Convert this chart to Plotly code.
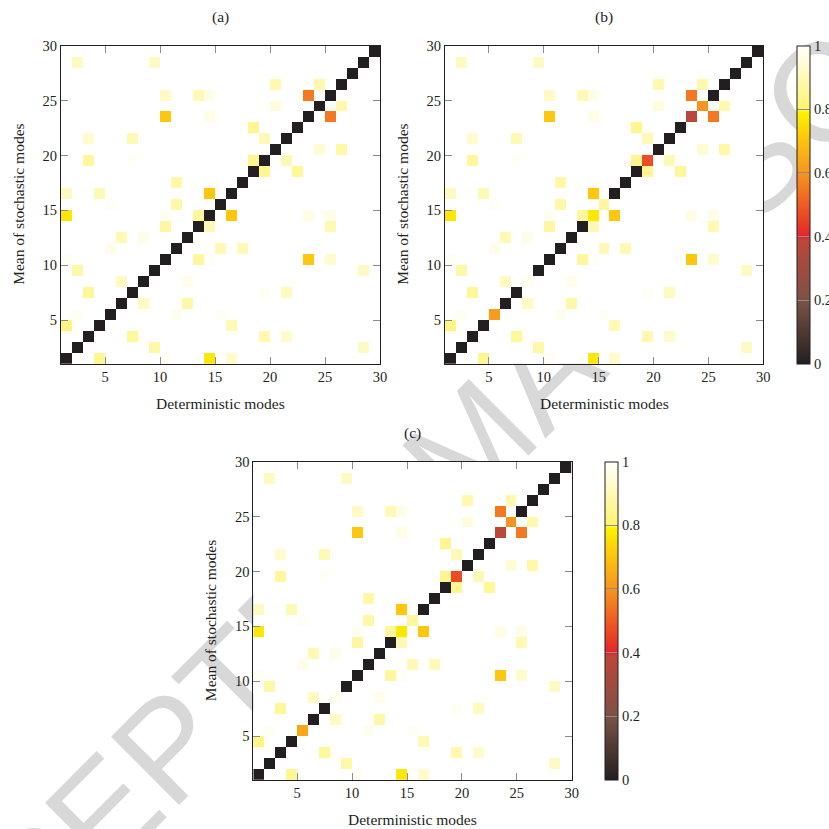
import plotly.graph_objects as go

W = H = 829

# ---------------- data ----------------
modes = list(range(1, 30))                 # 29 cells per axis (1..29, cell k spans [k, k+1])
cell_centers = [m + 0.5 for m in modes]
tick_vals = [5, 10, 15, 20, 25, 30]
tick_text = ["5", "10", "15", "20", "25", "30"]
cbar_vals = [0, 0.2, 0.4, 0.6, 0.8, 1]
cbar_text = ["0", "0.2", "0.4", "0.6", "0.8", "1"]
panel_titles = ["(a)", "(b)", "(c)"]
x_title = "Deterministic modes"
y_title = "Mean of stochastic modes"
watermark = "ACCEPTED MANUSCRIPT"
background_value = 1.0

diag_a = [0.0, 0.0, 0.0, 0.0, 0.0, 0.0, 0.0, 0.0, 0.0, 0.0, 0.0, 0.0, 0.0, 0.0, 0.0,
          0.0, 0.0, 0.0, 0.0, 0.0, 0.0, 0.0, 0.0, 0.0, 0.0, 0.0, 0.0, 0.0, 0.0]
diag_b = [0.0, 0.0, 0.0, 0.0, 0.62, 0.0, 0.0, 0.98, 0.0, 0.0, 0.0, 0.0, 0.0, 0.77, 0.87,
          0.0, 0.0, 0.0, 0.47, 0.0, 0.0, 0.0, 0.38, 0.60, 0.0, 0.0, 0.0, 0.0, 0.0]
diag_c = [0.0, 0.0, 0.0, 0.0, 0.64, 0.0, 0.0, 0.98, 0.0, 0.0, 0.0, 0.0, 0.0, 0.77, 0.87,
          0.0, 0.0, 0.0, 0.47, 0.0, 0.0, 0.0, 0.38, 0.60, 0.0, 0.0, 0.0, 0.0, 0.0]

# off-diagonal cells: (deterministic mode, stochastic mode, value)
offdiag_a = [
    (2, 28, 0.92), (9, 28, 0.92),
    (20, 26, 0.89), (24, 26, 0.89),
    (10, 25, 0.92), (13, 25, 0.90), (14, 25, 0.965), (23, 25, 0.55),
    (20, 24, 0.95), (26, 24, 0.89),
    (10, 23, 0.71), (14, 23, 0.965), (25, 23, 0.55),
    (18, 22, 0.85),
    (3, 21, 0.93), (7, 21, 0.90), (19, 21, 0.90),
    (24, 20, 0.94), (26, 20, 0.88),
    (3, 19, 0.87), (7, 19, 0.985), (18, 19, 0.85), (21, 19, 0.90),
    (19, 18, 0.85), (22, 18, 0.86),
    (11, 17, 0.88),
    (1, 16, 0.92), (4, 16, 0.90), (14, 16, 0.71),
    (5, 15, 0.985), (11, 15, 0.88),
    (1, 14, 0.77), (10, 14, 0.98), (13, 14, 0.87), (16, 14, 0.71), (23, 14, 0.965), (25, 14, 0.965),
    (10, 13, 0.87), (14, 13, 0.90), (25, 13, 0.90),
    (6, 12, 0.90), (8, 12, 0.97),
    (5, 11, 0.97), (15, 11, 0.90), (17, 11, 0.90),
    (1, 10, 0.985), (13, 10, 0.87), (14, 10, 0.985), (23, 10, 0.71), (25, 10, 0.93),
    (2, 9, 0.88), (28, 9, 0.92),
    (6, 8, 0.92), (12, 8, 0.975),
    (3, 7, 0.86), (19, 7, 0.985), (21, 7, 0.91),
    (8, 6, 0.92), (12, 6, 0.88),
    (2, 5, 0.985), (11, 5, 0.975), (15, 5, 0.985),
    (1, 4, 0.83), (16, 4, 0.90),
    (7, 3, 0.86), (19, 3, 0.89), (21, 3, 0.93),
    (9, 2, 0.88), (28, 2, 0.92),
    (4, 1, 0.85), (10, 1, 0.985), (14, 1, 0.77), (16, 1, 0.93),
]
offdiag_b = list(offdiag_a)
offdiag_c = list(offdiag_a)

colorscale = [
    [0.0, "#231f20"], [0.2, "#7b5346"], [0.39, "#bd4639"], [0.4, "#e5232a"],
    [0.6, "#f7941d"], [0.7, "#fcc20f"], [0.79, "#fff100"], [0.8, "#fff36c"],
    [1.0, "#ffffff"],
]


def build_matrix(diag, offdiag):
    z = [[background_value for _ in modes] for _ in modes]
    for k, m in enumerate(modes):
        z[m - 1][m - 1] = diag[k]
    for c, r, v in offdiag:
        z[r - 1][c - 1] = v
    return z


def px(x):
    return x / W


def py(y):
    return 1 - y / H


SERIF = "Liberation Serif, Times New Roman, serif"
TXT = "#231f20"

# panel geometry (pixels): left, right, top, bottom
panels = [
    (61.0, 380.0, 45.7, 364.0),
    (445.0, 763.3, 45.7, 364.0),
    (253.3, 571.7, 461.7, 780.0),
]
colorbars = [None, (796.7, 45.7), (605.0, 461.7)]
matrices = [build_matrix(diag_a, offdiag_a), build_matrix(diag_b, offdiag_b),
            build_matrix(diag_c, offdiag_c)]

fig = go.Figure()
layout = dict(
    width=W, height=H, autosize=False,
    margin=dict(l=0, r=0, t=0, b=0, pad=0, autoexpand=False),
    paper_bgcolor="white", plot_bgcolor="white",
    showlegend=False,
    annotations=[],
    shapes=[],
)

for k, ((l, r, t, b), z) in enumerate(zip(panels, matrices)):
    sx = "" if k == 0 else str(k + 1)
    cb = colorbars[k]
    trace = go.Heatmap(
        x=cell_centers, y=cell_centers, z=z,
        zmin=0, zmax=1, colorscale=colorscale,
        xaxis="x" + sx, yaxis="y" + sx,
        showscale=cb is not None, hoverinfo="skip",
    )
    if cb is not None:
        trace.colorbar = dict(
            x=px(cb[0]), xanchor="left", y=py(cb[1]), yanchor="top",
            lenmode="pixels", len=b - t, thickness=13.3, thicknessmode="pixels",
            xpad=0, ypad=0, outlinewidth=1, outlinecolor=TXT,
            tickvals=cbar_vals, ticktext=cbar_text, ticks="inside", ticklen=13,
            tickcolor="#8c8c8c", tickwidth=1.2,
            tickfont=dict(family=SERIF, size=14.5, color=TXT),
        )
    fig.add_trace(trace)

    ax = dict(
        range=[1, 30], tickvals=tick_vals, ticktext=tick_text,
        ticks="inside", ticklen=7, tickcolor="#8c8c8c", tickwidth=1.2,
        showline=True, linecolor=TXT, linewidth=1, mirror="ticks",
        showgrid=False, zeroline=False, fixedrange=True, automargin=False,
        tickfont=dict(family=SERIF, size=14.5, color=TXT),
    )
    layout["xaxis" + sx] = dict(ax, domain=[px(l), px(r)], anchor="y" + sx)
    layout["yaxis" + sx] = dict(ax, domain=[py(b), py(t)], anchor="x" + sx)

    cx = (l + r) / 2
    layout["annotations"] += [
        dict(text=panel_titles[k], x=px(cx), y=py(t - 29), xref="paper", yref="paper",
             showarrow=False, xanchor="center", yanchor="middle",
             font=dict(family=SERIF, size=15.5, color=TXT)),
        dict(text=x_title, x=px(cx), y=py(b + 39), xref="paper", yref="paper",
             showarrow=False, xanchor="center", yanchor="middle",
             font=dict(family=SERIF, size=15.5, color=TXT)),
        dict(text=y_title, x=px(l - 42), y=py((t + b) / 2), xref="paper", yref="paper",
             showarrow=False, xanchor="center", yanchor="middle", textangle=-90,
             font=dict(family=SERIF, size=15.5, color=TXT)),
    ]

# watermark behind the plots
wx, wy, dx, dy = 463.0, 434.0, 70.0, -70.0
layout["shapes"].append(dict(
    type="line", xref="paper", yref="paper", layer="below",
    x0=px(wx - dx), y0=py(wy - dy), x1=px(wx + dx), y1=py(wy + dy),
    line=dict(color="rgba(0,0,0,0)", width=1),
    label=dict(text=watermark, textposition="middle", yanchor="middle",
               font=dict(family="Liberation Sans, Arial, sans-serif", size=140,
                         color="#d8d8d8")),
))

fig.update_layout(**layout)
fig.write_html("out.html", config={"displayModeBar": False})
